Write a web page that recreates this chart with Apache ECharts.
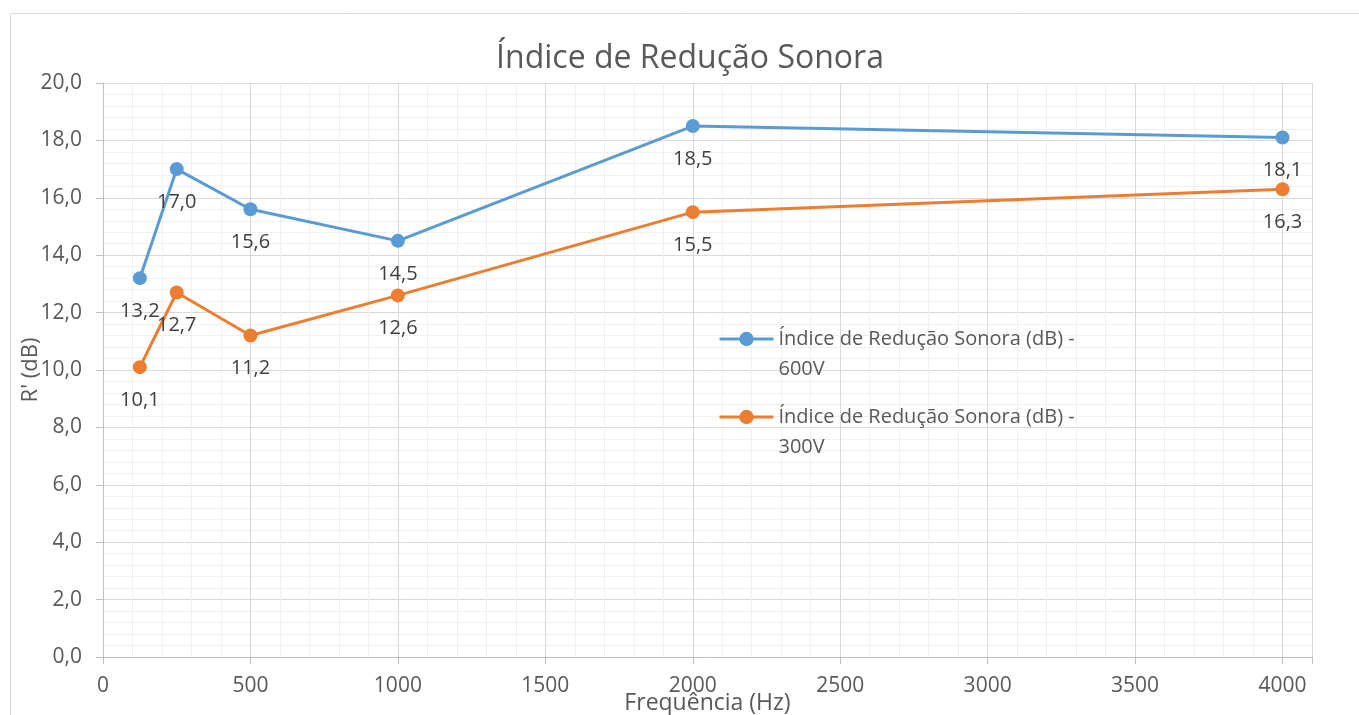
<!DOCTYPE html>
<html>
<head>
<meta charset="utf-8">
<script src="https://cdn.jsdelivr.net/npm/echarts@6/dist/echarts.min.js"></script>
<style>
  html, body { margin: 0; padding: 0; background: #fff; }
  #chart { width: 1359px; height: 715px; }
</style>
</head>
<body>
<div id="chart"></div>
<script>
// frequencias (Hz)
var freqs = [125, 250, 500, 1000, 2000, 4000];
var r600 = [13.2, 17.0, 15.6, 14.5, 18.5, 18.1];
var r300 = [10.1, 12.7, 11.2, 12.6, 15.5, 16.3];
var seriesNames = ['Índice de Redução Sonora (dB) - 600V', 'Índice de Redução Sonora (dB) - 300V'];
var colors = ['#5b9bd5', '#ed7d31'];

var font = '"Open Sans", sans-serif';

function pairs(ys) {
  var out = [];
  for (var i = 0; i < freqs.length; i++) out.push([freqs[i], ys[i]]);
  return out;
}

function mkSeries(name, ys, color) {
  return {
    name: name,
    type: 'line',
    data: pairs(ys),
    symbol: 'circle',
    symbolSize: 14,
    itemStyle: { color: color },
    lineStyle: { color: color, width: 3 },
    label: {
      show: true,
      position: 'bottom',
      distance: 16,
      color: '#404040',
      fontSize: 20,
      fontFamily: font,
      formatter: function (p) { return p.value[1].toFixed(1).replace('.', ','); }
    },
    emphasis: { disabled: true },
    animation: false
  };
}

// one legend per serie so each icon sits on the first text line
function mkLegend(name, top) {
  return {
    orient: 'vertical',
    left: 718,
    top: top,
    padding: 0,
    itemWidth: 54,
    itemHeight: 18,
    data: [name],
    lineStyle: { width: 3 },
    formatter: function (n) { return '\n' + n.replace(' - ', ' -\n'); },
    textStyle: { color: '#595959', fontSize: 20, fontFamily: font, lineHeight: 30 }
  };
}

var chart = echarts.init(document.getElementById('chart'));
chart.setOption({
  animation: false,
  color: colors,
  title: {
    text: 'Índice de Redução Sonora',
    left: 685,
    top: 38,
    textAlign: 'center',
    textStyle: { color: '#595959', fontSize: 32, fontWeight: 'normal', fontFamily: font }
  },
  graphic: [{
    type: 'rect',
    shape: { x: 10.5, y: 13.5, width: 1400, height: 800 },
    style: { fill: 'none', stroke: '#d9d9d9', lineWidth: 1 },
    silent: true,
    z: -1
  }],
  legend: [mkLegend(seriesNames[0], 294), mkLegend(seriesNames[1], 372)],
  grid: { left: 103, right: 47, top: 83, bottom: 58, outerBoundsMode: 'none' },
  xAxis: {
    type: 'value',
    min: 0,
    max: 4100,
    interval: 500,
    name: 'Frequência (Hz)',
    nameLocation: 'middle',
    nameGap: 35,
    nameMoveOverlap: false,
    nameTextStyle: { color: '#595959', fontSize: 23, fontFamily: font },
    axisLine: { show: true, lineStyle: { color: '#bfbfbf', width: 1 } },
    axisTick: { show: true, length: 7, lineStyle: { color: '#bfbfbf' } },
    axisLabel: {
      color: '#595959', fontSize: 21, fontFamily: font, margin: 19,
      formatter: function (v) { return v % 500 === 0 ? String(v) : ''; }
    },
    splitLine: { show: true, lineStyle: { color: '#d9d9d9', width: 1 } },
    minorTick: { show: false, splitNumber: 5 },
    minorSplitLine: { show: true, lineStyle: { color: '#f0f0f0', width: 1 } }
  },
  yAxis: {
    type: 'value',
    min: 0,
    max: 20,
    interval: 2,
    name: "R' (dB)",
    nameLocation: 'middle',
    nameGap: 61,
    nameMoveOverlap: false,
    nameTextStyle: { color: '#595959', fontSize: 22, fontFamily: font },
    axisLine: { show: true, lineStyle: { color: '#bfbfbf', width: 1 } },
    axisTick: { show: true, length: 7, lineStyle: { color: '#bfbfbf' } },
    axisLabel: {
      color: '#595959', fontSize: 21, fontFamily: font, margin: 21,
      formatter: function (v) { return v.toFixed(1).replace('.', ','); }
    },
    splitLine: { show: true, lineStyle: { color: '#d9d9d9', width: 1 } },
    minorTick: { show: false, splitNumber: 5 },
    minorSplitLine: { show: true, lineStyle: { color: '#f0f0f0', width: 1 } }
  },
  series: [
    mkSeries(seriesNames[0], r600, colors[0]),
    mkSeries(seriesNames[1], r300, colors[1])
  ]
});
</script>
</body>
</html>
